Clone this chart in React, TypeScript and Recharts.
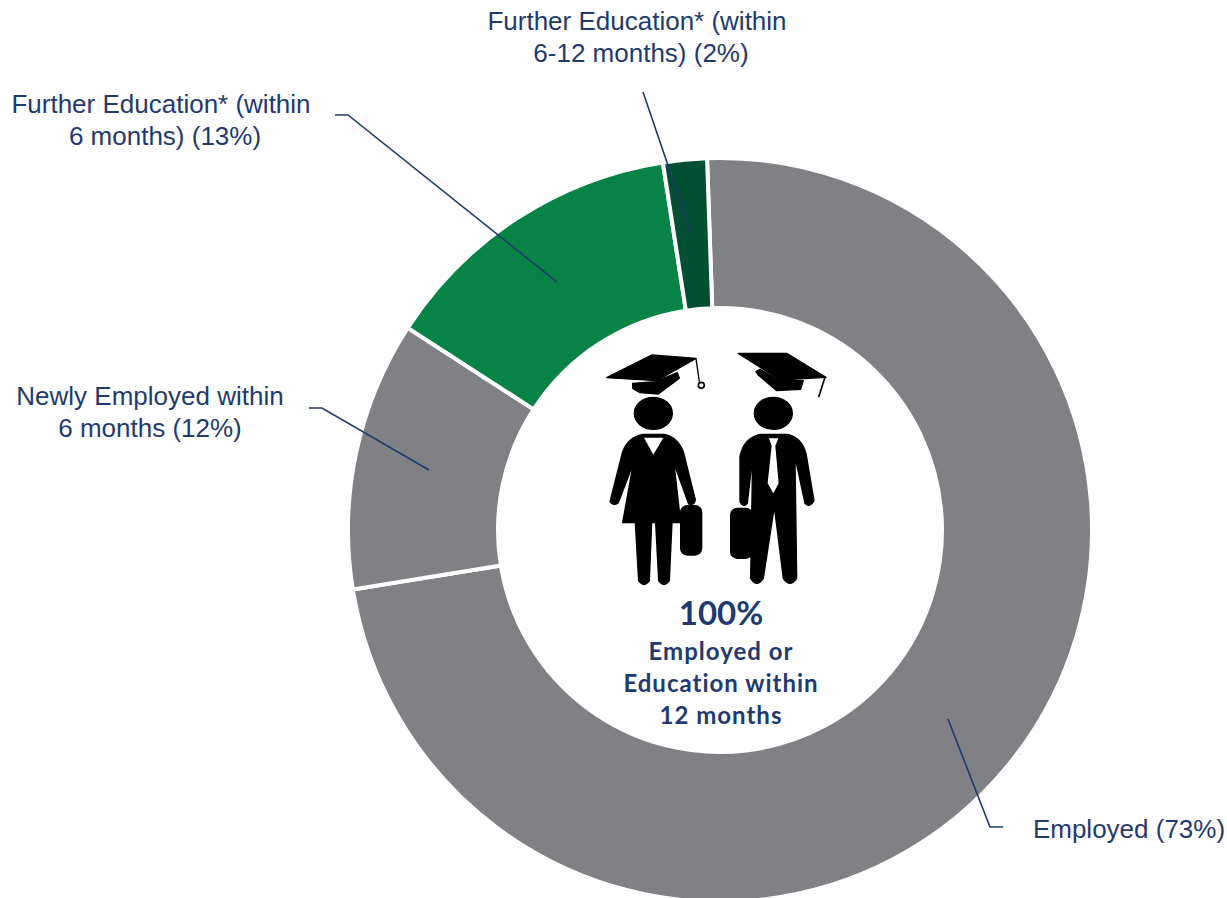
import React from "react";
import { PieChart, Pie, Cell } from "recharts";

// Share of graduates by outcome, clockwise from the top of the ring.
const CATEGORIES = [
  "Employed",
  "Newly Employed within 6 months",
  "Further Education within 6 months",
  "Further Education within 6-12 months",
];
const VALUES = [73.0, 11.7, 13.4, 1.9];
const COLORS = ["#808184", "#808184", "#078445", "#024f32"];

const LABEL_LINES = [
  ["Employed (73%)"],
  ["Newly Employed within", "6 months (12%)"],
  ["Further Education* (within", "6 months) (13%)"],
  ["Further Education* (within", "6-12 months) (2%)"],
];
const CENTER_TITLE = "100%";
const CENTER_LINES = ["Employed or", "Education within", "12 months"];

const pieData = CATEGORIES.map((name, i) => ({ name, value: VALUES[i] }));

// where the callouts sit on the page
const CALLOUTS = [
  { x: 1129, x2: 1129, y: 838, leader: "948,719 990,827 1003,827" },
  { x: 150, x2: 150, y: 405, leader: "309,408 322,408 429,470" },
  { x: 161, x2: 165, y: 113, leader: "335,115 348,115 557,282" },
  { x: 637, x2: 641, y: 30, leader: "643,92 691,233" },
];

const NAVY = "#1f3a6f";
const LABEL_FONT = '"Liberation Sans", Arial, sans-serif';

function renderLabel(props: any) {
  const spot = CALLOUTS[props.index];
  return (
    <text
      key={props.index}
      x={spot.x}
      y={spot.y}
      textAnchor="middle"
      fill={NAVY}
      stroke="none"
      fontFamily={LABEL_FONT}
      fontSize={26}
    >
      {LABEL_LINES[props.index].map((line, i) => (
        <tspan key={line} x={i === 0 ? spot.x : spot.x2} dy={i === 0 ? 0 : 32}>
          {line}
        </tspan>
      ))}
    </text>
  );
}

function renderLeader(props: any) {
  const i = CATEGORIES.indexOf(props.name);
  return (
    <polyline
      key={i}
      points={CALLOUTS[i].leader}
      fill="none"
      stroke={NAVY}
      strokeWidth={1.6}
    />
  );
}

// Graduate pictogram, traced in 3x coordinates
function Graduates() {
  return (
    <g transform="translate(590 340) scale(0.3333)" fill="#000" stroke="#000" strokeWidth={4} strokeLinejoin="round">
      {/* woman */}
      <path d="M50 113 L185 45 L318 55 L200 122 Z" />
      <path d="M128 130 L195 125 L262 98 L268 115 L205 162 L150 158 L128 145 Z" />
      <path d="M318 55 L328 125" fill="none" />
      <circle cx={334} cy={136} r={9} fill="#fff" strokeWidth={5} />
      <ellipse cx={190} cy={220} rx={57} ry={48} />
      <path d="M160 283 L222 283 Q262 290 280 335 L316 480 Q312 498 296 492 L252 370 L272 548 L98 548 L130 370 L85 488 Q70 500 60 485 L98 335 Q115 290 160 283 Z" />
      <path d="M162 293 L220 293 L190 344 Z" fill="#fff" stroke="none" />
      <path d="M136 548 L185 548 L178 722 Q162 745 146 722 Z" />
      <path d="M197 548 L246 548 L238 722 Q222 745 206 722 Z" />
      <rect x={272} y={497} width={63} height={148} rx={20} />
      {/* man */}
      <path d="M445 40 L590 40 L708 112 L570 120 Z" />
      <path d="M510 88 L570 122 L640 122 L632 148 L560 152 L505 105 L498 95 Z" />
      <path d="M705 112 L686 172" fill="none" strokeWidth={5} />
      <ellipse cx={550} cy={220} rx={57} ry={48} />
      <path d="M510 283 L592 283 Q635 292 648 340 L672 482 Q660 505 645 490 L615 350 L618 560 L620 715 Q600 745 580 715 L553 500 L520 715 Q500 745 482 715 L488 350 L472 490 Q460 505 450 485 L450 350 Q460 295 510 283 Z" />
      <path d="M537 295 L565 295 L556 318 L566 430 L550 460 L533 430 L545 318 Z" fill="#fff" stroke="none" />
      <rect x={422} y={505} width={65} height={150} rx={20} />
    </g>
  );
}

export default function App() {
  return (
    <div style={{ position: "fixed", left: 0, top: 0, width: 1227, height: 898, overflow: "hidden", background: "#fff" }}>
      <PieChart width={1227} height={898} margin={{ top: 0, right: 0, bottom: 0, left: 0 }}>
        <Pie
          data={pieData}
          dataKey="value"
          nameKey="name"
          cx={720}
          cy={530}
          innerRadius={222}
          outerRadius={372}
          startAngle={92}
          endAngle={-268}
          stroke="#fff"
          strokeWidth={4}
          isAnimationActive={false}
          label={renderLabel}
          labelLine={renderLeader}
        >
          {pieData.map((d, i) => (
            <Cell key={d.name} fill={COLORS[i]} />
          ))}
        </Pie>
        <line x1={720} y1={754} x2={1020} y2={754} stroke="#9c9da0" strokeWidth={1} />
        <Graduates />
        <text x={721} y={625} textAnchor="middle" fill={NAVY} fontFamily="Lato, sans-serif" fontWeight={700} fontSize={33}>
          {CENTER_TITLE}
        </text>
        <text textAnchor="middle" fill={NAVY} fontFamily="Lato, sans-serif" fontWeight={700} fontSize={24} letterSpacing={1}>
          {CENTER_LINES.map((line, i) => (
            <tspan key={line} x={721} y={660 + i * 32}>
              {line}
            </tspan>
          ))}
        </text>
      </PieChart>
    </div>
  );
}
